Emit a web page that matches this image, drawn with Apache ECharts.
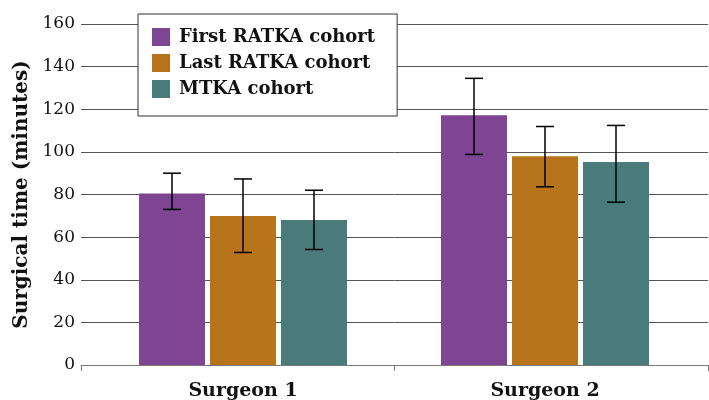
<!DOCTYPE html>
<html><head><meta charset="utf-8">
<script src="https://cdn.jsdelivr.net/npm/echarts@6/dist/echarts.min.js"></script>
<style>html,body{margin:0;padding:0;background:#fff}#chart{width:709px;height:400px}</style>
</head><body><div id="chart"></div>
<script>
// Surgical time by surgeon and cohort (mean with error range)
const categories = ['Surgeon 1', 'Surgeon 2'];
const seriesNames = ['First RATKA cohort', 'Last RATKA cohort', 'MTKA cohort'];
const firstMean = [80.5, 117.2];
const firstLow  = [73.0, 98.8];
const firstHigh = [90.0, 134.5];
const lastMean  = [69.9, 98.0];
const lastLow   = [52.8, 83.6];
const lastHigh  = [87.3, 111.9];
const mtkaMean  = [68.0, 95.2];
const mtkaLow   = [54.2, 76.4];
const mtkaHigh  = [82.0, 112.4];
const yMin = 0, yMax = 160, yStep = 20;

const colors = ['#7e4592', '#b8741a', '#4a7b7b'];
const means = [firstMean, lastMean, mtkaMean];
const lows = [firstLow, lastLow, mtkaLow];
const highs = [firstHigh, lastHigh, mtkaHigh];

const BAR_W = 66, BAR_GAP = 5, CAP_W = 18;
const serif = '"DejaVu Serif", serif';

const chart = echarts.init(document.getElementById('chart'), null, {renderer: 'canvas'});

const barSeries = seriesNames.map((name, i) => ({
  name, type: 'bar', xAxisIndex: 1, yAxisIndex: 1,
  data: means[i], barWidth: BAR_W, barGap: (BAR_GAP / BAR_W * 100) + '%',
  itemStyle: {color: colors[i]}, z: 2
}));

const errSeries = seriesNames.map((name, i) => ({
  type: 'custom', xAxisIndex: 1, yAxisIndex: 1, z: 5, silent: true,
  data: categories.map((c, k) => [k, lows[i][k], highs[i][k]]),
  encode: {x: 0, y: [1, 2]},
  renderItem: (params, api) => {
    const off = (i - 1) * (BAR_W + BAR_GAP);
    const lo = api.coord([api.value(0), api.value(1)]);
    const hi = api.coord([api.value(0), api.value(2)]);
    const x = lo[0] + off;
    const st = {stroke: '#000', lineWidth: 1.5};
    return {type: 'group', children: [
      {type: 'line', shape: {x1: x, y1: lo[1], x2: x, y2: hi[1]}, style: st},
      {type: 'line', shape: {x1: x - CAP_W / 2, y1: hi[1], x2: x + CAP_W / 2, y2: hi[1]}, style: st},
      {type: 'line', shape: {x1: x - CAP_W / 2, y1: lo[1], x2: x + CAP_W / 2, y2: lo[1]}, style: st}
    ]};
  }
}));

chart.setOption({
  animation: false,
  backgroundColor: '#fff',
  grid: [
    {left: 81, right: 1, top: 24, bottom: 35, outerBoundsMode: 'none', containLabel: false},
    {left: 92, right: 13, top: 24, bottom: 35, outerBoundsMode: 'none', containLabel: false}
  ],
  legend: {
    data: seriesNames, orient: 'vertical', left: 138, top: 14,
    backgroundColor: '#fff', borderColor: '#333', borderWidth: 1,
    padding: [14, 22, 18, 14], itemWidth: 18, itemHeight: 18, itemGap: 8,
    icon: 'rect',
    textStyle: {fontFamily: serif, fontWeight: 'bold', fontSize: 18, color: '#111', padding: [0, 0, 0, 4]}
  },
  xAxis: [
    {type: 'category', gridIndex: 0, data: categories, boundaryGap: true,
     axisLine: {lineStyle: {color: '#777', width: 1}},
     axisTick: {show: true, length: 6, lineStyle: {color: '#777'}},
     axisLabel: {show: false}},
    {type: 'category', gridIndex: 1, data: categories,
     axisLine: {show: false}, axisTick: {show: false},
     axisLabel: {fontFamily: serif, fontWeight: 'bold', fontSize: 19, color: '#111', margin: 17}}
  ],
  yAxis: [
    {type: 'value', gridIndex: 0, min: yMin, max: yMax, interval: yStep,
     name: 'Surgical time (minutes)', nameLocation: 'middle', nameGap: 46, nameRotate: 90,
     nameTextStyle: {fontFamily: serif, fontWeight: 'bold', fontSize: 20, color: '#111'},
     axisLine: {show: false}, axisTick: {show: false},
     axisLabel: {fontFamily: serif, fontSize: 17, color: '#111', margin: 6},
     splitLine: {lineStyle: {color: '#555', width: 1}}},
    {type: 'value', gridIndex: 1, min: yMin, max: yMax, interval: yStep, show: false,
     splitLine: {show: false}}
  ],
  series: [...barSeries, ...errSeries]
});
</script></body></html>
